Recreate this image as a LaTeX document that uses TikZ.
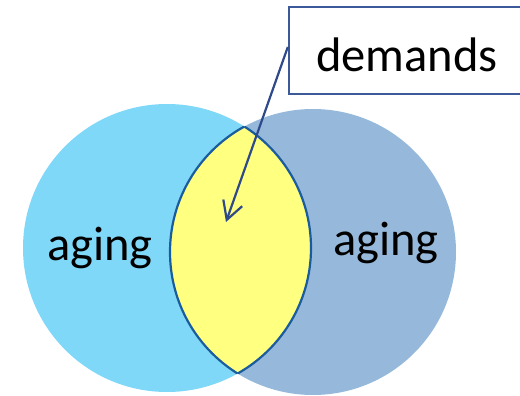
\documentclass[tikz,border=0pt]{standalone}
\usepackage{fontspec}
\setmainfont{Carlito}
\usetikzlibrary{arrows.meta}
\definecolor{leftfill}{HTML}{80D8F8}
\definecolor{rightfill}{HTML}{96B9DB}
\definecolor{lensfill}{HTML}{FFFF80}
\definecolor{lensline}{HTML}{1A5C9E}
\definecolor{arrowline}{HTML}{2F4A8A}
\definecolor{boxline}{HTML}{3C5A9A}
\tikzset{
  label/.style={font=\fontsize{48.5}{58}\selectfont, inner sep=0pt},
  callout/.style={draw=boxline, line width=2.4pt, fill=white,
    minimum width=236pt, minimum height=87pt, inner sep=0pt,
    text height=42pt, text depth=0pt, font=\fontsize{48.5}{58}\selectfont},
  pointer/.style={draw=arrowline, line width=2.2pt,
    -{Straight Barb[length=18pt, width=20pt, line width=2.2pt]}},
  lensedge/.style={draw=lensline, line width=2.2pt}
}
\begin{document}
\begin{tikzpicture}[x=1pt, y=-1pt]
\useasboundingbox (0,0) rectangle (520,396);
\clip (0,0) rectangle (520,396);
% the two sets
\coordinate (cl) at (167,248);
\coordinate (cr) at (313,252);
\fill[leftfill] (cl) circle[radius=144];
\fill[rightfill] (cr) circle[radius=143];
% shared region
\begin{scope}
  \clip (cl) circle[radius=144];
  \fill[lensfill] (cr) circle[radius=143];
  \draw[lensedge] (cr) circle[radius=143];
\end{scope}
\begin{scope}
  \clip (cr) circle[radius=143];
  \draw[lensedge] (cl) circle[radius=144];
\end{scope}
% labels
\node[label, anchor=base] (agel) at (100,260) {aging};
\node[label, anchor=base] (ager) at (386,255) {aging};
% callout box and its pointer
\node[callout] (box) at (407,50.5) {demands};
\coordinate (tip) at (226,222);
\draw[pointer] ([yshift=3.5pt]box.west) -- (tip);
\end{tikzpicture}
\end{document}
